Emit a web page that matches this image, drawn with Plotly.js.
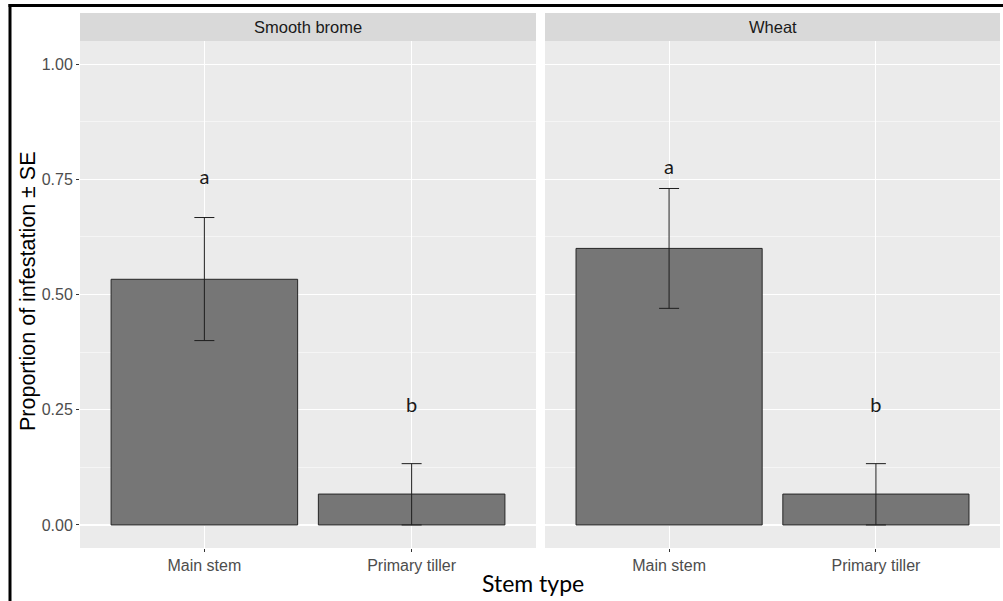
<!DOCTYPE html>
<html>
<head>
<meta charset="utf-8">
<script src="https://cdn.plot.ly/plotly-3.0.1.min.js"></script>
<style>html,body{margin:0;padding:0;background:#fff;}#chart{width:1003px;height:601px;}</style>
</head>
<body>
<div id="chart"></div>
<script>
// ---- data ----
const stemTypes = ['Main stem', 'Primary tiller'];
const facets = ['Smooth brome', 'Wheat'];
const bromeMean = [0.533, 0.067];
const bromeUpper = [0.667, 0.133];
const bromeLower = [0.400, 0.000];
const wheatMean = [0.600, 0.067];
const wheatUpper = [0.730, 0.133];
const wheatLower = [0.470, 0.000];
const bromeLetters = ['a', 'b'];
const bromeLetterY = [0.750, 0.255];
const wheatLetters = ['a', 'b'];
const wheatLetterY = [0.772, 0.255];
const yTicks = [0, 0.25, 0.5, 0.75, 1.0];
const yTickText = ['0.00', '0.25', '0.50', '0.75', '1.00'];

// ---- helpers ----
const W = 1003, H = 601;
const px = v => v / W;
const py = v => 1 - v / H;

function barTrace(mean, upper, lower, xa, ya) {
  return {
    type: 'bar', x: stemTypes, y: mean, xaxis: xa, yaxis: ya, width: 0.9,
    marker: {color: '#767676', line: {color: '#262626', width: 1}},
    error_y: {
      type: 'data', symmetric: false,
      array: upper.map((u, i) => u - mean[i]),
      arrayminus: mean.map((m, i) => m - lower[i]),
      color: '#1e1e1e', thickness: 1, width: 10
    },
    hoverinfo: 'skip', showlegend: false
  };
}
function letterTrace(letters, ys, xa, ya) {
  return {
    type: 'scatter', mode: 'text', x: stemTypes, y: ys, text: letters,
    xaxis: xa, yaxis: ya, textposition: 'middle center',
    textfont: {family: 'Lato, "Open Sans", sans-serif', size: 20, color: '#1a1a1a'},
    hoverinfo: 'skip', showlegend: false
  };
}

const data = [
  barTrace(bromeMean, bromeUpper, bromeLower, 'x', 'y'),
  letterTrace(bromeLetters, bromeLetterY, 'x', 'y'),
  barTrace(wheatMean, wheatUpper, wheatLower, 'x2', 'y2'),
  letterTrace(wheatLetters, wheatLetterY, 'x2', 'y2')
];

const tickFont = {family: '"Liberation Sans", Arial, sans-serif', size: 16, color: '#4d4d4d'};
const xBase = {
  type: 'category', range: [-0.6, 1.6], showgrid: true, gridcolor: '#ffffff', gridwidth: 1.1,
  zeroline: false, showline: false, ticks: 'outside', ticklen: 3, tickcolor: '#333333', tickwidth: 1,
  tickfont: tickFont, fixedrange: true
};
const yBase = {
  range: [-0.05, 1.05], tickvals: yTicks, ticktext: yTickText, showgrid: true, gridcolor: '#ffffff',
  gridwidth: 1.1, zeroline: false, showline: false, ticks: 'outside', ticklen: 3, tickcolor: '#333333',
  tickwidth: 1, tickfont: tickFont, domain: [py(548), py(41)], fixedrange: true,
  minor: {tick0: 0.125, dtick: 0.25, showgrid: true, gridcolor: '#ffffff', gridwidth: 0.5, ticks: ''}
};

const layout = {
  width: W, height: H, margin: {l: 0, r: 0, t: 0, b: 0},
  paper_bgcolor: '#ffffff', plot_bgcolor: '#ebebeb',
  showlegend: false,
  xaxis: Object.assign({}, xBase, {domain: [px(80), px(536)], anchor: 'y'}),
  xaxis2: Object.assign({}, xBase, {domain: [px(545), px(1000)], anchor: 'y2'}),
  yaxis: Object.assign({}, yBase, {anchor: 'x'}),
  yaxis2: Object.assign({}, yBase, {anchor: 'x2', matches: 'y', showticklabels: false, ticks: ''}),
  shapes: [
    {type: 'rect', xref: 'paper', yref: 'paper', x0: px(80), x1: px(536), y0: py(41), y1: py(13),
     fillcolor: '#d9d9d9', line: {width: 0}, layer: 'below'},
    {type: 'rect', xref: 'paper', yref: 'paper', x0: px(545), x1: px(1000), y0: py(41), y1: py(13),
     fillcolor: '#d9d9d9', line: {width: 0}, layer: 'below'},
    {type: 'line', xref: 'paper', yref: 'paper', x0: px(8.5), x1: 1, y0: py(5.5), y1: py(5.5),
     line: {color: '#000000', width: 3}},
    {type: 'line', xref: 'paper', yref: 'paper', x0: px(10), x1: px(10), y0: 0, y1: py(4),
     line: {color: '#000000', width: 3}}
  ],
  annotations: [
    {xref: 'paper', yref: 'paper', x: px(308), y: py(27), xanchor: 'center', yanchor: 'middle',
     text: facets[0], showarrow: false,
     font: {family: '"Liberation Sans", Arial, sans-serif', size: 16.5, color: '#1a1a1a'}},
    {xref: 'paper', yref: 'paper', x: px(772.5), y: py(27), xanchor: 'center', yanchor: 'middle',
     text: facets[1], showarrow: false,
     font: {family: '"Liberation Sans", Arial, sans-serif', size: 16.5, color: '#1a1a1a'}},
    {xref: 'paper', yref: 'paper', x: px(28), y: py(291), xanchor: 'center', yanchor: 'middle',
     text: 'Proportion of infestation ± SE', textangle: -90, showarrow: false,
     font: {family: '"Liberation Sans", Arial, sans-serif', size: 21.5, color: '#000000'}},
    {xref: 'paper', yref: 'paper', x: px(533), y: py(583), xanchor: 'center', yanchor: 'middle',
     text: 'Stem type', showarrow: false,
     font: {family: 'Lato, "Open Sans", sans-serif', size: 23, color: '#000000'}}
  ]
};

Plotly.newPlot('chart', data, layout, {displayModeBar: false, staticPlot: true});
</script>
</body>
</html>
